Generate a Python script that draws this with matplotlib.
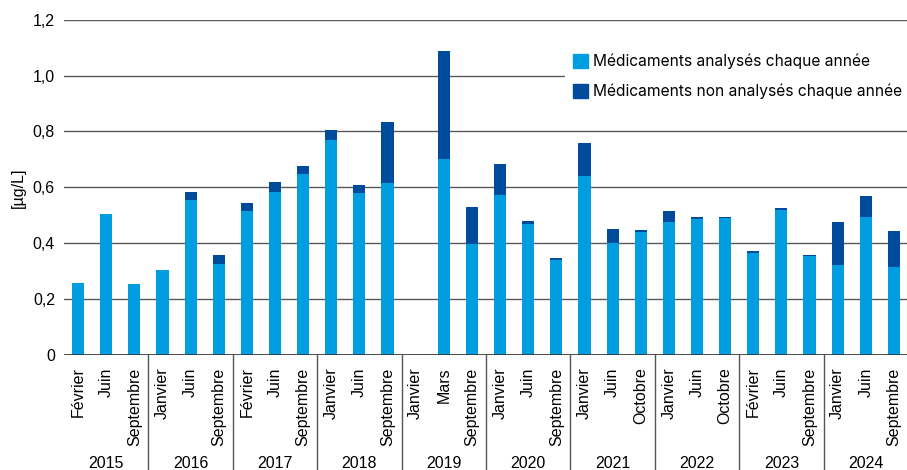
import numpy as np
import matplotlib
matplotlib.use("Agg")
import matplotlib.pyplot as plt
from matplotlib.lines import Line2D
from matplotlib.patches import Patch
import matplotlib.transforms as mtransforms

# données [µg/L]
annees = ["2015", "2016", "2017", "2018", "2019",
          "2020", "2021", "2022", "2023", "2024"]
mois = ["Février", "Juin", "Septembre",
        "Janvier", "Juin", "Septembre",
        "Février", "Juin", "Septembre",
        "Janvier", "Juin", "Septembre",
        "Janvier", "Mars", "Septembre",
        "Janvier", "Juin", "Septembre",
        "Janvier", "Juin", "Octobre",
        "Janvier", "Juin", "Octobre",
        "Février", "Juin", "Septembre",
        "Janvier", "Juin", "Septembre"]
analyses = [0.257, 0.503, 0.253,
            0.303, 0.553, 0.325,
            0.517, 0.582, 0.646,
            0.768, 0.578, 0.614,
            0.0, 0.700, 0.396,
            0.571, 0.468, 0.339,
            0.642, 0.400, 0.439,
            0.475, 0.486, 0.489,
            0.364, 0.518, 0.353,
            0.321, 0.493, 0.314]
non_analyses = [0.0, 0.0, 0.0,
                0.0, 0.029, 0.032,
                0.026, 0.036, 0.029,
                0.039, 0.029, 0.221,
                0.0, 0.388, 0.132,
                0.111, 0.010, 0.007,
                0.118, 0.050, 0.007,
                0.039, 0.007, 0.004,
                0.007, 0.007, 0.004,
                0.154, 0.075, 0.129]

BLEU_CLAIR = "#009ee0"
BLEU_FONCE = "#004b9b"
W, H = 907, 470

plt.rcParams["font.family"] = ["Liberation Sans", "DejaVu Sans"]

fig = plt.figure(figsize=(W / 100, H / 100), dpi=100)
ax = fig.add_axes([64 / W, (H - 355) / H, (908 - 64) / W, (355 - 19.7) / H])

x = np.arange(len(mois))
ax.bar(x, analyses, width=0.43, color=BLEU_CLAIR, zorder=3)
ax.bar(x, non_analyses, bottom=analyses, width=0.43, color=BLEU_FONCE, zorder=3)

ax.set_xlim(-0.5, len(mois) - 0.5)
ax.set_ylim(0, 1.2)
yt = np.arange(0, 1.21, 0.2)
ax.set_yticks(yt)
ax.set_yticklabels(["0" if v == 0 else f"{v:.1f}".replace(".", ",") for v in yt],
                   fontsize=11.5)
ax.set_xticks(x)
ax.set_xticklabels(mois, rotation=90, fontsize=11.5, va="top")
ax.tick_params(axis="y", length=0, pad=6.5)
ax.tick_params(axis="x", length=0, pad=9)
for s in ax.spines.values():
    s.set_visible(False)
ax.yaxis.grid(True, color="#5a5a5a", linewidth=1.0, zorder=0)
ax.axhline(0, color="#333333", linewidth=1.2, zorder=4)
ax.set_ylabel("[µg/L]", fontsize=11.5, labelpad=5)

# séparateurs et années
trans = mtransforms.blended_transform_factory(ax.transData, fig.transFigure)
for k in range(1, len(annees)):
    fig.add_artist(Line2D([3 * k - 0.5, 3 * k - 0.5], [(H - 355) / H, 0],
                          transform=trans, color="#555555", linewidth=1.0))
for k, a in enumerate(annees):
    fig.text(3 * k + 1, (H - 456) / H, a, transform=trans, ha="center", va="top",
             fontsize=11.5)

handles = [Patch(color=BLEU_CLAIR), Patch(color=BLEU_FONCE)]
leg = fig.legend(handles, ["Médicaments analysés chaque année",
                           "Médicaments non analysés chaque année"],
                 loc="upper left", bbox_to_anchor=(557 / W, 1 - 38 / H),
                 bbox_transform=fig.transFigure,
                 prop={"family": ["Inter", "DejaVu Sans"], "size": 11.2},
                 handlelength=1.0, handleheight=1.0, handletextpad=0.3,
                 labelspacing=0.95, borderpad=0.5, frameon=True,
                 fancybox=False, framealpha=1, facecolor="white",
                 edgecolor="none")

fig.savefig("out.png", dpi=100)
